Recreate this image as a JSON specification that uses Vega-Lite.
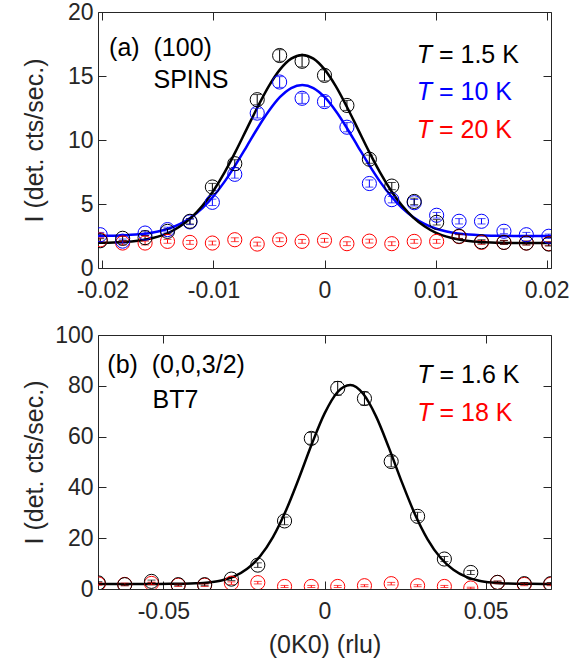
{
  "$schema": "https://vega.github.io/schema/vega-lite/v6.json",
  "background": "white",
  "padding": {"left": 21, "top": 0, "right": 30, "bottom": 2},
  "spacing": 67,
  "bounds": "flush",
  "config": {
    "font": "Liberation Sans",
    "view": {"stroke": "#262626", "strokeWidth": 1},
    "axis": {
      "domain": false, "grid": false, "tickColor": "#262626", "tickSize": -8, "tickWidth": 1,
      "labelColor": "#262626", "labelFontSize": 23, "labelPadding": 13, "labelFlush": false, "labelOverlap": false,
      "titleColor": "#262626", "titleFontSize": 25, "titleFontWeight": "normal"
    },
    "axisLeft": {"titleX": -51},
    "axisBottom": {"titlePadding": 9, "labelPadding": 19}
  },
  "datasets": {
    "topPts": [
      {"x": -0.0202, "I": 2.2, "err": 0.15, "series": "T20"},
      {"x": -0.01818, "I": 1.95, "err": 0.15, "series": "T20"},
      {"x": -0.01616, "I": 1.95, "err": 0.15, "series": "T20"},
      {"x": -0.01414, "I": 2.08, "err": 0.15, "series": "T20"},
      {"x": -0.01212, "I": 2.0, "err": 0.15, "series": "T20"},
      {"x": -0.0101, "I": 1.95, "err": 0.15, "series": "T20"},
      {"x": -0.00808, "I": 2.21, "err": 0.15, "series": "T20"},
      {"x": -0.00606, "I": 1.87, "err": 0.15, "series": "T20"},
      {"x": -0.00404, "I": 2.21, "err": 0.15, "series": "T20"},
      {"x": -0.00202, "I": 2.08, "err": 0.15, "series": "T20"},
      {"x": 0.0, "I": 2.16, "err": 0.15, "series": "T20"},
      {"x": 0.00202, "I": 1.9, "err": 0.15, "series": "T20"},
      {"x": 0.00404, "I": 2.1, "err": 0.15, "series": "T20"},
      {"x": 0.00606, "I": 1.9, "err": 0.15, "series": "T20"},
      {"x": 0.00808, "I": 2.08, "err": 0.15, "series": "T20"},
      {"x": 0.0101, "I": 2.08, "err": 0.15, "series": "T20"},
      {"x": 0.01212, "I": 2.45, "err": 0.15, "series": "T20"},
      {"x": 0.01414, "I": 2.0, "err": 0.15, "series": "T20"},
      {"x": 0.01616, "I": 2.0, "err": 0.15, "series": "T20"},
      {"x": 0.01818, "I": 1.95, "err": 0.15, "series": "T20"},
      {"x": 0.0202, "I": 1.9, "err": 0.15, "series": "T20"},
      {"x": -0.0202, "I": 2.6, "err": 0.18, "series": "T10"},
      {"x": -0.01818, "I": 2.1, "err": 0.16, "series": "T10"},
      {"x": -0.01616, "I": 2.73, "err": 0.18, "series": "T10"},
      {"x": -0.01414, "I": 3.0, "err": 0.19, "series": "T10"},
      {"x": -0.01212, "I": 3.6, "err": 0.21, "series": "T10"},
      {"x": -0.0101, "I": 5.13, "err": 0.25, "series": "T10"},
      {"x": -0.00808, "I": 7.32, "err": 0.3, "series": "T10"},
      {"x": -0.00606, "I": 12.1, "err": 0.38, "series": "T10"},
      {"x": -0.00404, "I": 14.53, "err": 0.42, "series": "T10"},
      {"x": -0.00202, "I": 13.26, "err": 0.4, "series": "T10"},
      {"x": 0.0, "I": 13.0, "err": 0.4, "series": "T10"},
      {"x": 0.00202, "I": 11.0, "err": 0.36, "series": "T10"},
      {"x": 0.00404, "I": 6.6, "err": 0.28, "series": "T10"},
      {"x": 0.00606, "I": 5.34, "err": 0.25, "series": "T10"},
      {"x": 0.00808, "I": 5.1, "err": 0.25, "series": "T10"},
      {"x": 0.0101, "I": 4.12, "err": 0.22, "series": "T10"},
      {"x": 0.01212, "I": 3.65, "err": 0.21, "series": "T10"},
      {"x": 0.01414, "I": 3.65, "err": 0.21, "series": "T10"},
      {"x": 0.01616, "I": 2.87, "err": 0.19, "series": "T10"},
      {"x": 0.01818, "I": 2.6, "err": 0.18, "series": "T10"},
      {"x": 0.0202, "I": 2.48, "err": 0.17, "series": "T10"},
      {"x": -0.0202, "I": 2.13, "err": 0.16, "series": "T15"},
      {"x": -0.01818, "I": 2.32, "err": 0.17, "series": "T15"},
      {"x": -0.01616, "I": 2.37, "err": 0.17, "series": "T15"},
      {"x": -0.01414, "I": 2.86, "err": 0.19, "series": "T15"},
      {"x": -0.01212, "I": 3.65, "err": 0.21, "series": "T15"},
      {"x": -0.0101, "I": 6.33, "err": 0.28, "series": "T15"},
      {"x": -0.00808, "I": 8.15, "err": 0.31, "series": "T15"},
      {"x": -0.00606, "I": 13.15, "err": 0.4, "series": "T15"},
      {"x": -0.00404, "I": 16.6, "err": 0.45, "series": "T15"},
      {"x": -0.00202, "I": 16.15, "err": 0.44, "series": "T15"},
      {"x": 0.0, "I": 15.05, "err": 0.43, "series": "T15"},
      {"x": 0.00202, "I": 12.7, "err": 0.39, "series": "T15"},
      {"x": 0.00404, "I": 8.5, "err": 0.32, "series": "T15"},
      {"x": 0.00606, "I": 6.4, "err": 0.28, "series": "T15"},
      {"x": 0.00808, "I": 5.2, "err": 0.25, "series": "T15"},
      {"x": 0.0101, "I": 3.57, "err": 0.21, "series": "T15"},
      {"x": 0.01212, "I": 2.48, "err": 0.17, "series": "T15"},
      {"x": 0.01414, "I": 2.05, "err": 0.16, "series": "T15"},
      {"x": 0.01616, "I": 2.0, "err": 0.16, "series": "T15"},
      {"x": 0.01818, "I": 1.95, "err": 0.15, "series": "T15"},
      {"x": 0.0202, "I": 1.87, "err": 0.15, "series": "T15"}
    ],
    "topFit": [
      {"x": -0.021, "I": 2.506, "series": "T10"},
      {"x": -0.020, "I": 2.514, "series": "T10"},
      {"x": -0.019, "I": 2.529, "series": "T10"},
      {"x": -0.018, "I": 2.557, "series": "T10"},
      {"x": -0.017, "I": 2.61, "series": "T10"},
      {"x": -0.016, "I": 2.70, "series": "T10"},
      {"x": -0.015, "I": 2.85, "series": "T10"},
      {"x": -0.014, "I": 3.09, "series": "T10"},
      {"x": -0.013, "I": 3.45, "series": "T10"},
      {"x": -0.012, "I": 3.97, "series": "T10"},
      {"x": -0.011, "I": 4.68, "series": "T10"},
      {"x": -0.010, "I": 5.61, "series": "T10"},
      {"x": -0.009, "I": 6.75, "series": "T10"},
      {"x": -0.008, "I": 8.08, "series": "T10"},
      {"x": -0.007, "I": 9.51, "series": "T10"},
      {"x": -0.006, "I": 10.96, "series": "T10"},
      {"x": -0.005, "I": 12.28, "series": "T10"},
      {"x": -0.004, "I": 13.36, "series": "T10"},
      {"x": -0.003, "I": 14.06, "series": "T10"},
      {"x": -0.002, "I": 14.3, "series": "T10"},
      {"x": -0.001, "I": 14.06, "series": "T10"},
      {"x": 0.000, "I": 13.36, "series": "T10"},
      {"x": 0.001, "I": 12.28, "series": "T10"},
      {"x": 0.002, "I": 10.96, "series": "T10"},
      {"x": 0.003, "I": 9.51, "series": "T10"},
      {"x": 0.004, "I": 8.08, "series": "T10"},
      {"x": 0.005, "I": 6.75, "series": "T10"},
      {"x": 0.006, "I": 5.61, "series": "T10"},
      {"x": 0.007, "I": 4.68, "series": "T10"},
      {"x": 0.008, "I": 3.97, "series": "T10"},
      {"x": 0.009, "I": 3.45, "series": "T10"},
      {"x": 0.010, "I": 3.09, "series": "T10"},
      {"x": 0.011, "I": 2.85, "series": "T10"},
      {"x": 0.012, "I": 2.70, "series": "T10"},
      {"x": 0.013, "I": 2.61, "series": "T10"},
      {"x": 0.014, "I": 2.557, "series": "T10"},
      {"x": 0.015, "I": 2.529, "series": "T10"},
      {"x": 0.016, "I": 2.514, "series": "T10"},
      {"x": 0.017, "I": 2.506, "series": "T10"},
      {"x": 0.018, "I": 2.503, "series": "T10"},
      {"x": 0.019, "I": 2.501, "series": "T10"},
      {"x": 0.020, "I": 2.5, "series": "T10"},
      {"x": 0.021, "I": 2.5, "series": "T10"},
      {"x": -0.021, "I": 1.96, "series": "T15"},
      {"x": -0.020, "I": 1.97, "series": "T15"},
      {"x": -0.019, "I": 1.995, "series": "T15"},
      {"x": -0.018, "I": 2.04, "series": "T15"},
      {"x": -0.017, "I": 2.11, "series": "T15"},
      {"x": -0.016, "I": 2.24, "series": "T15"},
      {"x": -0.015, "I": 2.45, "series": "T15"},
      {"x": -0.014, "I": 2.77, "series": "T15"},
      {"x": -0.013, "I": 3.26, "series": "T15"},
      {"x": -0.012, "I": 3.94, "series": "T15"},
      {"x": -0.011, "I": 4.86, "series": "T15"},
      {"x": -0.010, "I": 6.04, "series": "T15"},
      {"x": -0.009, "I": 7.47, "series": "T15"},
      {"x": -0.008, "I": 9.11, "series": "T15"},
      {"x": -0.007, "I": 10.87, "series": "T15"},
      {"x": -0.006, "I": 12.62, "series": "T15"},
      {"x": -0.005, "I": 14.23, "series": "T15"},
      {"x": -0.004, "I": 15.52, "series": "T15"},
      {"x": -0.003, "I": 16.36, "series": "T15"},
      {"x": -0.002, "I": 16.65, "series": "T15"},
      {"x": -0.001, "I": 16.36, "series": "T15"},
      {"x": 0.000, "I": 15.52, "series": "T15"},
      {"x": 0.001, "I": 14.23, "series": "T15"},
      {"x": 0.002, "I": 12.62, "series": "T15"},
      {"x": 0.003, "I": 10.87, "series": "T15"},
      {"x": 0.004, "I": 9.11, "series": "T15"},
      {"x": 0.005, "I": 7.47, "series": "T15"},
      {"x": 0.006, "I": 6.04, "series": "T15"},
      {"x": 0.007, "I": 4.86, "series": "T15"},
      {"x": 0.008, "I": 3.94, "series": "T15"},
      {"x": 0.009, "I": 3.26, "series": "T15"},
      {"x": 0.010, "I": 2.77, "series": "T15"},
      {"x": 0.011, "I": 2.45, "series": "T15"},
      {"x": 0.012, "I": 2.24, "series": "T15"},
      {"x": 0.013, "I": 2.11, "series": "T15"},
      {"x": 0.014, "I": 2.04, "series": "T15"},
      {"x": 0.015, "I": 1.995, "series": "T15"},
      {"x": 0.016, "I": 1.97, "series": "T15"},
      {"x": 0.017, "I": 1.96, "series": "T15"},
      {"x": 0.018, "I": 1.954, "series": "T15"},
      {"x": 0.019, "I": 1.952, "series": "T15"},
      {"x": 0.020, "I": 1.951, "series": "T15"},
      {"x": 0.021, "I": 1.95, "series": "T15"}
    ],
    "topNote": [
      {"x": -0.0194, "I": 17.2, "txt": "(a)\u00a0\u00a0(100)", "series": "T15"},
      {"x": -0.0154, "I": 14.7, "txt": "SPINS", "series": "T15"}
    ],
    "topLeg": [
      {"x": 0.00968, "I": 16.66, "txt": "= 1.5 K", "series": "T15"},
      {"x": 0.00968, "I": 13.75, "txt": "= 10 K", "series": "T10"},
      {"x": 0.00968, "I": 10.8, "txt": "= 20 K", "series": "T20"}
    ],
    "botPts": [
      {"x": -0.0702, "I": 2.0, "err": 0.5, "series": "T18"},
      {"x": -0.062, "I": 1.8, "err": 0.5, "series": "T18"},
      {"x": -0.0537, "I": 2.2, "err": 0.5, "series": "T18"},
      {"x": -0.0454, "I": 1.5, "err": 0.5, "series": "T18"},
      {"x": -0.0372, "I": 1.5, "err": 0.5, "series": "T18"},
      {"x": -0.0289, "I": 2.3, "err": 0.5, "series": "T18"},
      {"x": -0.0207, "I": 2.5, "err": 0.5, "series": "T18"},
      {"x": -0.0124, "I": 1.0, "err": 0.4, "series": "T18"},
      {"x": -0.0041, "I": 1.0, "err": 0.4, "series": "T18"},
      {"x": 0.0041, "I": 1.0, "err": 0.4, "series": "T18"},
      {"x": 0.0124, "I": 1.3, "err": 0.4, "series": "T18"},
      {"x": 0.0207, "I": 2.1, "err": 0.5, "series": "T18"},
      {"x": 0.0289, "I": 1.3, "err": 0.4, "series": "T18"},
      {"x": 0.0372, "I": 1.0, "err": 0.4, "series": "T18"},
      {"x": 0.0454, "I": 0.4, "err": 0.3, "series": "T18"},
      {"x": 0.0537, "I": 2.6, "err": 0.5, "series": "T18"},
      {"x": 0.062, "I": 1.8, "err": 0.5, "series": "T18"},
      {"x": 0.0702, "I": 1.8, "err": 0.5, "series": "T18"},
      {"x": -0.0702, "I": 2.4, "err": 0.5, "series": "T16"},
      {"x": -0.062, "I": 1.7, "err": 0.4, "series": "T16"},
      {"x": -0.0537, "I": 3.0, "err": 0.5, "series": "T16"},
      {"x": -0.0454, "I": 1.7, "err": 0.4, "series": "T16"},
      {"x": -0.0372, "I": 1.7, "err": 0.4, "series": "T16"},
      {"x": -0.0289, "I": 3.9, "err": 0.6, "series": "T16"},
      {"x": -0.0207, "I": 9.4, "err": 0.9, "series": "T16"},
      {"x": -0.0124, "I": 26.8, "err": 1.5, "series": "T16"},
      {"x": -0.0041, "I": 59.3, "err": 2.3, "series": "T16"},
      {"x": 0.0041, "I": 79.0, "err": 2.7, "series": "T16"},
      {"x": 0.0124, "I": 75.0, "err": 2.6, "series": "T16"},
      {"x": 0.0207, "I": 50.2, "err": 2.1, "series": "T16"},
      {"x": 0.0289, "I": 28.6, "err": 1.6, "series": "T16"},
      {"x": 0.0372, "I": 11.8, "err": 1.0, "series": "T16"},
      {"x": 0.0454, "I": 6.5, "err": 0.8, "series": "T16"},
      {"x": 0.0537, "I": 2.6, "err": 0.5, "series": "T16"},
      {"x": 0.062, "I": 2.1, "err": 0.45, "series": "T16"},
      {"x": 0.0702, "I": 2.1, "err": 0.45, "series": "T16"}
    ],
    "botFit": [
      {"x": -0.072, "I": 2.0, "series": "T16"},
      {"x": -0.068, "I": 2.0, "series": "T16"},
      {"x": -0.064, "I": 2.0, "series": "T16"},
      {"x": -0.060, "I": 2.0, "series": "T16"},
      {"x": -0.056, "I": 2.0, "series": "T16"},
      {"x": -0.052, "I": 2.01, "series": "T16"},
      {"x": -0.048, "I": 2.03, "series": "T16"},
      {"x": -0.044, "I": 2.08, "series": "T16"},
      {"x": -0.040, "I": 2.23, "series": "T16"},
      {"x": -0.036, "I": 2.59, "series": "T16"},
      {"x": -0.032, "I": 3.38, "series": "T16"},
      {"x": -0.028, "I": 4.98, "series": "T16"},
      {"x": -0.024, "I": 7.94, "series": "T16"},
      {"x": -0.020, "I": 12.91, "series": "T16"},
      {"x": -0.016, "I": 20.45, "series": "T16"},
      {"x": -0.012, "I": 30.81, "series": "T16"},
      {"x": -0.008, "I": 43.42, "series": "T16"},
      {"x": -0.004, "I": 56.89, "series": "T16"},
      {"x": 0.000, "I": 69.04, "series": "T16"},
      {"x": 0.004, "I": 77.47, "series": "T16"},
      {"x": 0.008, "I": 80.3, "series": "T16"},
      {"x": 0.012, "I": 76.85, "series": "T16"},
      {"x": 0.016, "I": 67.96, "series": "T16"},
      {"x": 0.020, "I": 55.56, "series": "T16"},
      {"x": 0.024, "I": 42.09, "series": "T16"},
      {"x": 0.028, "I": 29.65, "series": "T16"},
      {"x": 0.032, "I": 19.58, "series": "T16"},
      {"x": 0.036, "I": 12.3, "series": "T16"},
      {"x": 0.040, "I": 7.56, "series": "T16"},
      {"x": 0.044, "I": 4.77, "series": "T16"},
      {"x": 0.048, "I": 3.27, "series": "T16"},
      {"x": 0.052, "I": 2.54, "series": "T16"},
      {"x": 0.056, "I": 2.21, "series": "T16"},
      {"x": 0.060, "I": 2.08, "series": "T16"},
      {"x": 0.064, "I": 2.03, "series": "T16"},
      {"x": 0.068, "I": 2.01, "series": "T16"},
      {"x": 0.072, "I": 2.0, "series": "T16"}
    ],
    "botNote": [
      {"x": -0.0674, "I": 88.1, "txt": "(b)\u00a0\u00a0(0,0,3/2)", "series": "T16"},
      {"x": -0.0534, "I": 74.4, "txt": "BT7", "series": "T16"}
    ],
    "botLeg": [
      {"x": 0.03354, "I": 84.2, "txt": "= 1.6 K", "series": "T16"},
      {"x": 0.03354, "I": 69.2, "txt": "= 18 K", "series": "T18"}
    ]
  },
  "vconcat": [
    {
      "width": 453,
      "height": 256,
      "resolve": {"axis": {"x": "independent", "y": "independent"}},
      "layer": [
        {
          "layer": [
            {
              "data": {"name": "topFit"},
              "mark": {"type": "line", "strokeWidth": 2.5, "clip": true, "interpolate": "monotone"},
              "encoding": {
                "x": {"field": "x", "type": "quantitative", "title": null, "scale": {"domain": [-0.0204, 0.0204], "nice": false, "zero": false},
                      "axis": {"values": [-0.02, -0.01, 0, 0.01, 0.02], "labelExpr": "datum.value + ''", "title": null}},
                "y": {"field": "I", "type": "quantitative", "title": "I (det. cts/sec.)", "scale": {"domain": [0, 20], "nice": false},
                      "axis": {"values": [0, 5, 10, 15, 20], "title": "I (det. cts/sec.)"}},
                "color": {"field": "series", "type": "nominal", "legend": null,
                          "scale": {"domain": ["T20", "T10", "T15", "T18", "T16"], "range": ["#ff0000", "#0000ff", "#000000", "#ff0000", "#000000"]}}
              }
            },
            {
              "data": {"name": "topPts"},
              "mark": {"type": "errorbar", "ticks": {"size": 8, "thickness": 1}, "rule": {"strokeWidth": 1}, "clip": true},
              "encoding": {
                "x": {"field": "x", "type": "quantitative", "title": null},
                "y": {"field": "I", "type": "quantitative", "title": "I (det. cts/sec.)"},
                "yError": {"field": "err"},
                "color": {"field": "series", "type": "nominal"}
              }
            },
            {
              "data": {"name": "topPts"},
              "mark": {"type": "point", "shape": "circle", "filled": false, "size": 200, "strokeWidth": 1, "opacity": 1, "clip": true},
              "encoding": {
                "x": {"field": "x", "type": "quantitative", "title": null},
                "y": {"field": "I", "type": "quantitative", "title": "I (det. cts/sec.)"},
                "color": {"field": "series", "type": "nominal"}
              }
            },
            {
              "data": {"name": "topNote"},
              "mark": {"type": "text", "align": "left", "baseline": "middle", "fontSize": 25},
              "encoding": {
                "x": {"field": "x", "type": "quantitative", "title": null},
                "y": {"field": "I", "type": "quantitative", "title": "I (det. cts/sec.)"},
                "text": {"field": "txt"},
                "color": {"field": "series", "type": "nominal"}
              }
            },
            {
              "data": {"name": "topLeg"},
              "mark": {"type": "text", "align": "right", "baseline": "middle", "fontSize": 25, "fontStyle": "italic", "text": "T"},
              "encoding": {
                "x": {"field": "x", "type": "quantitative", "title": null},
                "y": {"field": "I", "type": "quantitative", "title": "I (det. cts/sec.)"},
                "color": {"field": "series", "type": "nominal"}
              }
            },
            {
              "data": {"name": "topLeg"},
              "mark": {"type": "text", "align": "left", "baseline": "middle", "fontSize": 25, "dx": 7},
              "encoding": {
                "x": {"field": "x", "type": "quantitative", "title": null},
                "y": {"field": "I", "type": "quantitative", "title": "I (det. cts/sec.)"},
                "text": {"field": "txt"},
                "color": {"field": "series", "type": "nominal"}
              }
            }
          ]
        },
        {
          "data": {"name": "topNote"},
          "mark": {"type": "point", "opacity": 0},
          "encoding": {
            "x": {"field": "x", "type": "quantitative", "axis": {"orient": "top", "values": [-0.02, -0.01, 0, 0.01, 0.02], "labels": false, "title": null}},
            "y": {"field": "I", "type": "quantitative", "axis": {"orient": "right", "values": [0, 5, 10, 15, 20], "labels": false, "title": null}}
          }
        }
      ]
    },
    {
      "width": 453,
      "height": 254,
      "resolve": {"axis": {"x": "independent", "y": "independent"}},
      "layer": [
        {
          "layer": [
            {
              "data": {"name": "botFit"},
              "mark": {"type": "line", "strokeWidth": 2.5, "clip": true, "interpolate": "monotone"},
              "encoding": {
                "x": {"field": "x", "type": "quantitative", "title": "(0K0) (rlu)", "scale": {"domain": [-0.0703, 0.0703], "nice": false, "zero": false},
                      "axis": {"values": [-0.05, 0, 0.05], "labelExpr": "datum.value + ''", "title": "(0K0) (rlu)"}},
                "y": {"field": "I", "type": "quantitative", "title": "I (det. cts/sec.)", "scale": {"domain": [0, 100], "nice": false},
                      "axis": {"values": [0, 20, 40, 60, 80, 100], "title": "I (det. cts/sec.)"}},
                "color": {"field": "series", "type": "nominal", "legend": null,
                          "scale": {"domain": ["T20", "T10", "T15", "T18", "T16"], "range": ["#ff0000", "#0000ff", "#000000", "#ff0000", "#000000"]}}
              }
            },
            {
              "data": {"name": "botPts"},
              "mark": {"type": "errorbar", "ticks": {"size": 8, "thickness": 1}, "rule": {"strokeWidth": 1}, "clip": true},
              "encoding": {
                "x": {"field": "x", "type": "quantitative", "title": "(0K0) (rlu)"},
                "y": {"field": "I", "type": "quantitative", "title": "I (det. cts/sec.)"},
                "yError": {"field": "err"},
                "color": {"field": "series", "type": "nominal"}
              }
            },
            {
              "data": {"name": "botPts"},
              "mark": {"type": "point", "shape": "circle", "filled": false, "size": 200, "strokeWidth": 1, "opacity": 1, "clip": true},
              "encoding": {
                "x": {"field": "x", "type": "quantitative", "title": "(0K0) (rlu)"},
                "y": {"field": "I", "type": "quantitative", "title": "I (det. cts/sec.)"},
                "color": {"field": "series", "type": "nominal"}
              }
            },
            {
              "data": {"name": "botNote"},
              "mark": {"type": "text", "align": "left", "baseline": "middle", "fontSize": 25},
              "encoding": {
                "x": {"field": "x", "type": "quantitative", "title": "(0K0) (rlu)"},
                "y": {"field": "I", "type": "quantitative", "title": "I (det. cts/sec.)"},
                "text": {"field": "txt"},
                "color": {"field": "series", "type": "nominal"}
              }
            },
            {
              "data": {"name": "botLeg"},
              "mark": {"type": "text", "align": "right", "baseline": "middle", "fontSize": 25, "fontStyle": "italic", "text": "T"},
              "encoding": {
                "x": {"field": "x", "type": "quantitative", "title": "(0K0) (rlu)"},
                "y": {"field": "I", "type": "quantitative", "title": "I (det. cts/sec.)"},
                "color": {"field": "series", "type": "nominal"}
              }
            },
            {
              "data": {"name": "botLeg"},
              "mark": {"type": "text", "align": "left", "baseline": "middle", "fontSize": 25, "dx": 7},
              "encoding": {
                "x": {"field": "x", "type": "quantitative", "title": "(0K0) (rlu)"},
                "y": {"field": "I", "type": "quantitative", "title": "I (det. cts/sec.)"},
                "text": {"field": "txt"},
                "color": {"field": "series", "type": "nominal"}
              }
            }
          ]
        },
        {
          "data": {"name": "botNote"},
          "mark": {"type": "point", "opacity": 0},
          "encoding": {
            "x": {"field": "x", "type": "quantitative", "axis": {"orient": "top", "values": [-0.05, 0, 0.05], "labels": false, "title": null}},
            "y": {"field": "I", "type": "quantitative", "axis": {"orient": "right", "values": [0, 20, 40, 60, 80, 100], "labels": false, "title": null}}
          }
        }
      ]
    }
  ]
}
